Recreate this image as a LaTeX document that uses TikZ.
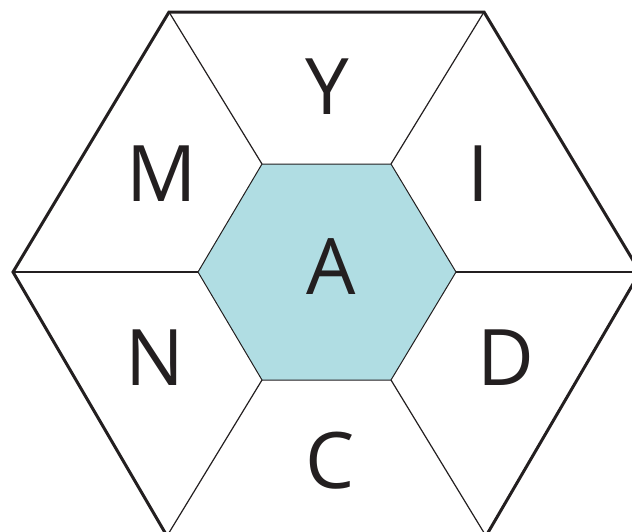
\documentclass[tikz,border=0pt]{standalone}
\usepackage{fontspec}
\setmainfont{Open Sans}
\definecolor{hexfill}{RGB}{176,221,227}
\definecolor{ink}{RGB}{35,31,32}
\tikzset{
  outerline/.style={draw=ink, line width=3pt, line join=miter},
  spoke/.style={draw=ink, line width=1.2pt},
  innerhex/.style={fill=hexfill, draw=ink, line width=1pt},
  letter/.style={anchor=base, inner sep=0pt, text=ink, font=\fontsize{78}{78}\selectfont}
}
\begin{document}
\begin{tikzpicture}[x=1pt,y=-1pt]
\useasboundingbox (0,0) rectangle (632,531);
\clip (0,0) rectangle (632,531);
% outer vertices
\coordinate (o1) at (169,12);
\coordinate (o2) at (484,12);
\coordinate (o3) at (640,272);
\coordinate (o4) at (486,536);
\coordinate (o5) at (167,536);
\coordinate (o6) at (13,272);
% inner vertices
\coordinate (i1) at (262,164);
\coordinate (i2) at (391,164);
\coordinate (i3) at (456,272);
\coordinate (i4) at (391,380);
\coordinate (i5) at (262,380);
\coordinate (i6) at (198,272);
\path[innerhex] (i1) -- (i2) -- (i3) -- (i4) -- (i5) -- (i6) -- cycle;
\draw[spoke] (i1) -- (o1);
\draw[spoke] (i2) -- (o2);
\draw[spoke] (i3) -- (o3);
\draw[spoke] (i4) -- (o4);
\draw[spoke] (i5) -- (o5);
\draw[spoke] (i6) -- (o6);
\draw[outerline] (o1) -- (o2) -- (o3) -- (o4) -- (o5) -- (o6) -- cycle;
\node[letter] (Y) at (327.5,114) {Y};
\node[letter] (M) at (161.5,201) {M};
\node[letter] (I) at (478,201) {I};
\node[letter] (A) at (331.5,294) {A};
\node[letter] (N) at (154.5,385) {N};
\node[letter] (D) at (505.5,385) {D};
\node[letter] (C) at (330,488) {C};
\end{tikzpicture}
\end{document}
